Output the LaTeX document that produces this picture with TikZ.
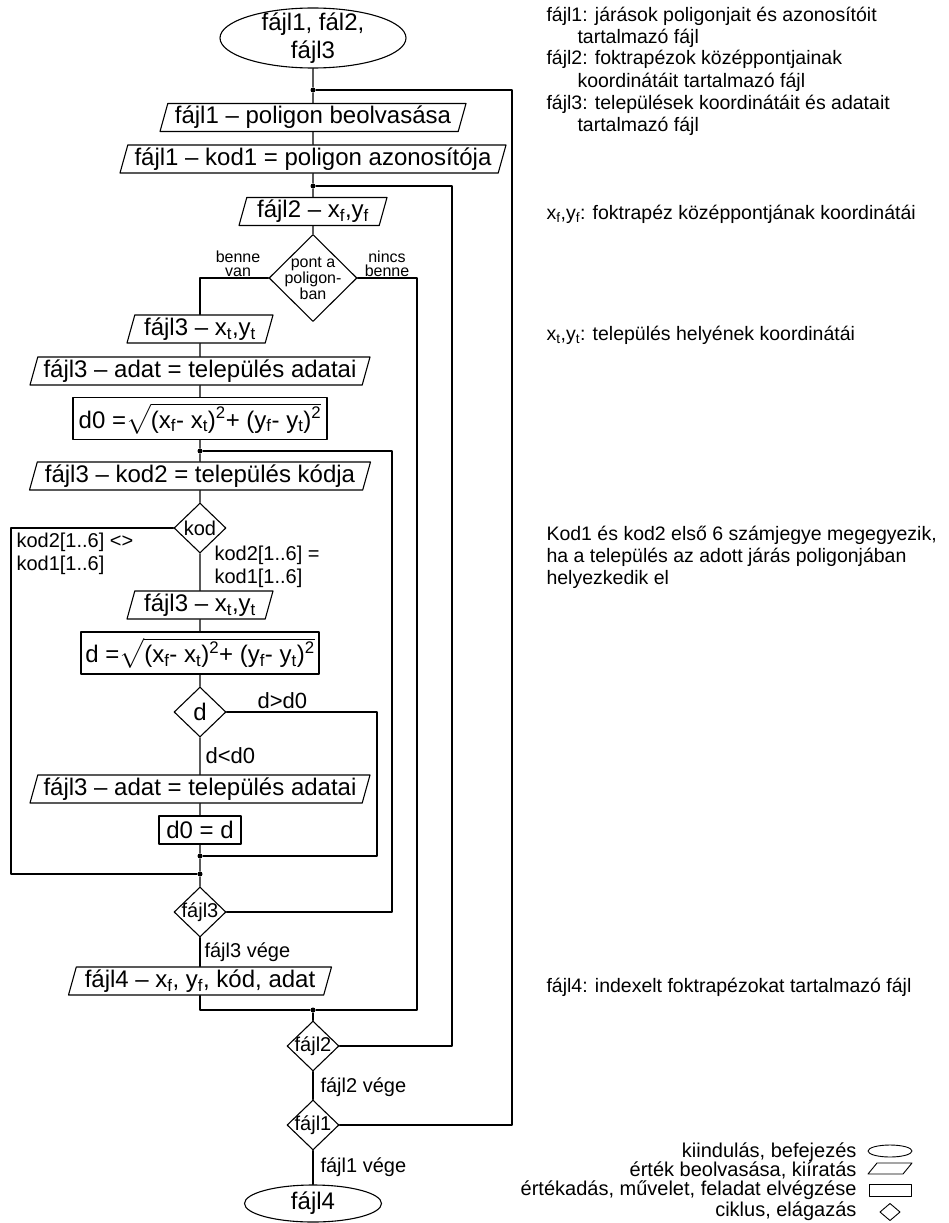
\documentclass[tikz,border=0pt]{standalone}
\usepackage{amsmath}
\usepackage{fontspec}
\setmainfont{Liberation Sans}
\usetikzlibrary{shapes.geometric}

\newcommand{\szbig}{\fontsize{24}{28}\selectfont}
\newcommand{\szmid}{\fontsize{20}{23}\selectfont}
\newcommand{\szsmall}{\fontsize{16}{14.5}\selectfont}
\newcommand{\sznote}{\fontsize{19.5}{22}\selectfont}
\newcommand{\gyok}{$\sqrt{\hbox{(x\textsubscript{f}- x\textsubscript{t})\textsuperscript{2}+ (y\textsubscript{f}- y\textsubscript{t})\textsuperscript{2}}}$}
% tobbsoros szoveg, alapvonal az elso soron
\newcommand{\sorok}[1]{\begin{tabular}[t]{@{}l@{}}#1\end{tabular}}

\begin{document}
\begin{tikzpicture}[line cap=round,line join=round,x=1pt,y=-1pt,line width=1.1pt,
  io/.style={draw,trapezium,trapezium left angle=71,trapezium right angle=109,
    trapezium stretches body,minimum height=28,inner xsep=1pt,inner ysep=0pt,font=\szbig},
  proc/.style={draw,rectangle,minimum height=42,inner sep=0pt,font=\szbig},
  term/.style={draw,ellipse,inner sep=-8pt,font=\szbig,align=center},
  test/.style={draw,diamond,aspect=1,inner sep=-2pt,minimum width=52,minimum height=50,font=\szmid},
  dot/.style={circle,fill,inner sep=0pt,minimum size=5},
  lbl/.style={font=\szmid,inner sep=0pt,anchor=base west},
  tiny/.style={font=\szsmall,inner sep=0pt,align=center},
  note/.style={font=\sznote,inner sep=0pt,anchor=base west},
  key/.style={font=\szmid,inner sep=0pt,anchor=base east}]
\useasboundingbox (0,0) rectangle (948,1223);

% fő ág
\node[term,minimum width=186,minimum height=60] (start) at (313,38) {fájl1, fál2,\\fájl3};
\node[dot] (j1) at (313,90) {};
\node[io,minimum width=306] (p1) at (313,117.5) {fájl1 -- poligon beolvasása};
\node[io,minimum width=386] (p2) at (313,159) {fájl1 -- kod1 = poligon azonosítója};
\node[dot] (j2) at (313,186) {};
\node[io,minimum width=148] (p3) at (313,211.5) {fájl2 -- x\textsubscript{f},y\textsubscript{f}};
\node[test,inner sep=-6pt,minimum width=88,minimum height=87,font=\szsmall,align=center]
  (dpont) at (313,278) {pont a\\poligon-\\ban};

% belső ág
\node[io,minimum width=146] (p4) at (200,329) {fájl3 -- x\textsubscript{t},y\textsubscript{t}};
\node[io,minimum width=340] (p5) at (200,371) {fájl3 -- adat = település adatai};
\node[proc,minimum width=254] (r1) at (200,418.5) {d0 =\gyok};
\node[dot] (j3) at (200,451) {};
\node[io,minimum width=341] (p6) at (200,476) {fájl3 -- kod2 = település kódja};
\node[test] (dkod) at (200,528) {kod};
\node[io,minimum width=146] (p7) at (200,605) {fájl3 -- x\textsubscript{t},y\textsubscript{t}};
\node[proc,minimum width=238] (r2) at (200,653) {d =\gyok};
\node[test,font=\szbig] (dd) at (200,712) {d};
\node[io,minimum width=340] (p8) at (200,789) {fájl3 -- adat = település adatai};
\node[proc,minimum width=82,minimum height=28] (r3) at (200,830) {d0 = d};
\node[dot] (j4a) at (200,856) {};
\node[dot] (j4b) at (200,874) {};
\node[test] (df3) at (200,912) {fájl3};
\node[io,minimum width=263] (p9) at (200,981) {fájl4 -- x\textsubscript{f}, y\textsubscript{f}, kód, adat};
\node[dot] (j5) at (313,1010) {};
\node[test] (df2) at (313,1046) {fájl2};
\node[test] (df1) at (313,1125) {fájl1};
\node[term,inner sep=0pt,minimum width=137,minimum height=37] (stop) at (313,1203.5) {fájl4};

% töréspontok
\coordinate (k1) at (512,1125);
\coordinate (k2) at (452,1046);
\coordinate (k3) at (392,912);
\coordinate (k4) at (11,528);
\coordinate (k5) at (377,712);
\coordinate (k6) at (417,278);

\draw (start) -- (j1) -- (p1) -- (p2) -- (j2) -- (p3) -- (dpont);
\draw (dpont.west) -| (p4.north);
\draw (dpont.east) -- (k6) |- (j5);
\draw (p4) -- (p5) -- (r1) -- (j3) -- (p6) -- (dkod);
\draw (dkod.west) -- (k4) |- (j4b);
\draw (dkod) -- (p7) -- (r2) -- (dd);
\draw (dd.east) -- (k5) |- (j4a);
\draw (dd) -- (p8) -- (r3) -- (j4a) -- (j4b) -- (df3);
\draw (df3) -- (p9);
\draw (p9.south) |- (j5);
\draw (j5) -- (df2) -- (df1) -- (stop);
\draw (j3) -| (k3) -- (df3.east);
\draw (j2) -| (k2) -- (df2.east);
\draw (j1) -| (k1) -- (df1.east);

% feliratok
\node[tiny] (lbenne) at (238,264) {benne\\van};
\node[tiny] (lnincs) at (387,264) {nincs\\benne};
\node[lbl] (lnem) at (16,547) {\sorok{kod2[1..6] <>\\kod1[1..6]}};
\node[lbl] (legy) at (214,560) {\sorok{kod2[1..6] =\\kod1[1..6]}};
\node[lbl,font=\fontsize{22}{24}\selectfont] (lnagy) at (257,708) {d>d0};
\node[lbl,font=\fontsize{22}{24}\selectfont] (lkis) at (205,763) {d<d0};
\node[lbl] (lv3) at (204,957) {fájl3 vége};
\node[lbl] (lv2) at (320,1092) {fájl2 vége};
\node[lbl] (lv1) at (320,1172) {fájl1 vége};

% magyarázatok
\node[note] (n1) at (546,22) {\sorok{fájl1: járások poligonjait és azonosítóit\\\hspace*{31pt}tartalmazó fájl}};
\node[note] (n2) at (546,65) {\sorok{fájl2: foktrapézok középpontjainak\\\hspace*{31pt}koordinátáit tartalmazó fájl}};
\node[note] (n3) at (546,109) {\sorok{fájl3: települések koordinátáit és adatait\\\hspace*{31pt}tartalmazó fájl}};
\node[note] (n4) at (546,219) {x\textsubscript{f},y\textsubscript{f}: foktrapéz középpontjának koordinátái};
\node[note] (n5) at (546,340) {x\textsubscript{t},y\textsubscript{t}: település helyének koordinátái};
\node[note] (n6) at (546,540) {\sorok{Kod1 és kod2 első 6 számjegye megegyezik,\\ha a település az adott járás poligonjában\\helyezkedik el}};
\node[note] (n7) at (546,992) {fájl4: indexelt foktrapézokat tartalmazó fájl};

% jelmagyarázat
\node[key] (t1) at (857,1157) {kiindulás, befejezés};
\node[key] (t2) at (857,1176) {érték beolvasása, kiíratás};
\node[key] (t3) at (857,1195) {értékadás, művelet, feladat elvégzése};
\node[key] (t4) at (857,1216) {ciklus, elágazás};
\begin{scope}[line width=0.9pt]
\draw (890,1151) ellipse [x radius=22, y radius=6];
\draw (868,1174) -- (877,1163) -- (912,1163) -- (903,1174) -- cycle;
\draw (869,1184) rectangle (911,1196);
\draw (880,1212) -- (890,1203.5) -- (900,1212) -- (890,1220.5) -- cycle;
\end{scope}
\end{tikzpicture}
\end{document}
